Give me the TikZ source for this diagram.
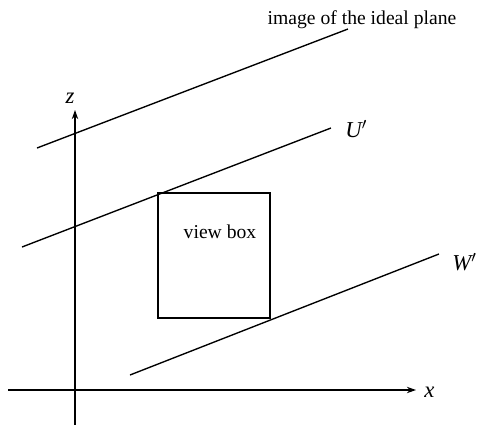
\documentclass[tikz,border=0pt]{standalone}
\usepackage{fontspec}
\setmainfont{Liberation Serif}
\usetikzlibrary{arrows.meta}
\begin{document}
\begin{tikzpicture}[x=0.55pt,y=-0.55pt,
  ln/.style={line width=0.75pt},
  ax/.style={line width=0.75pt,-{Stealth[length=5pt,width=3.5pt]}},
  lab/.style={inner sep=0pt,font=\fontsize{12.5}{14}\selectfont\itshape},
  txt/.style={inner sep=0pt,font=\fontsize{10.8}{13}\selectfont}]
\useasboundingbox (0,0) rectangle (479,425);
% axes
\coordinate (xs) at (8,390);
\coordinate (xe) at (416,390);
\coordinate (zs) at (75,425);
\coordinate (ze) at (75,110);
\draw[ax] (xs) -- (xe);
\draw[ax] (zs) -- (ze);
\node[lab,anchor=west] (xl) at (424,392) {x};
\node[lab] (zl) at (70,98) {z};
% ideal plane line
\coordinate (i1) at (37,148);
\coordinate (i2) at (348,29);
\draw[ln] (i1) -- (i2);
\node[txt] (il) at (362,20) {image of the ideal plane};
% U'
\coordinate (u1) at (22,247);
\coordinate (u2) at (331,128);
\draw[ln] (u1) -- (u2);
\node[lab,anchor=west] (ul) at (345,129) {U$'$};
% W'
\coordinate (w1) at (130,375);
\coordinate (w2) at (439,254);
\draw[ln] (w1) -- (w2);
\node[lab,anchor=west] (wl) at (452,262) {W$'$};
% view box
\node[draw,line width=0.75pt,minimum width=112*0.55pt,minimum height=125*0.55pt,inner sep=0pt] (vb) at (214,255.5) {};
\node[txt] (vl) at (220,232) {view box};
\end{tikzpicture}
\end{document}
